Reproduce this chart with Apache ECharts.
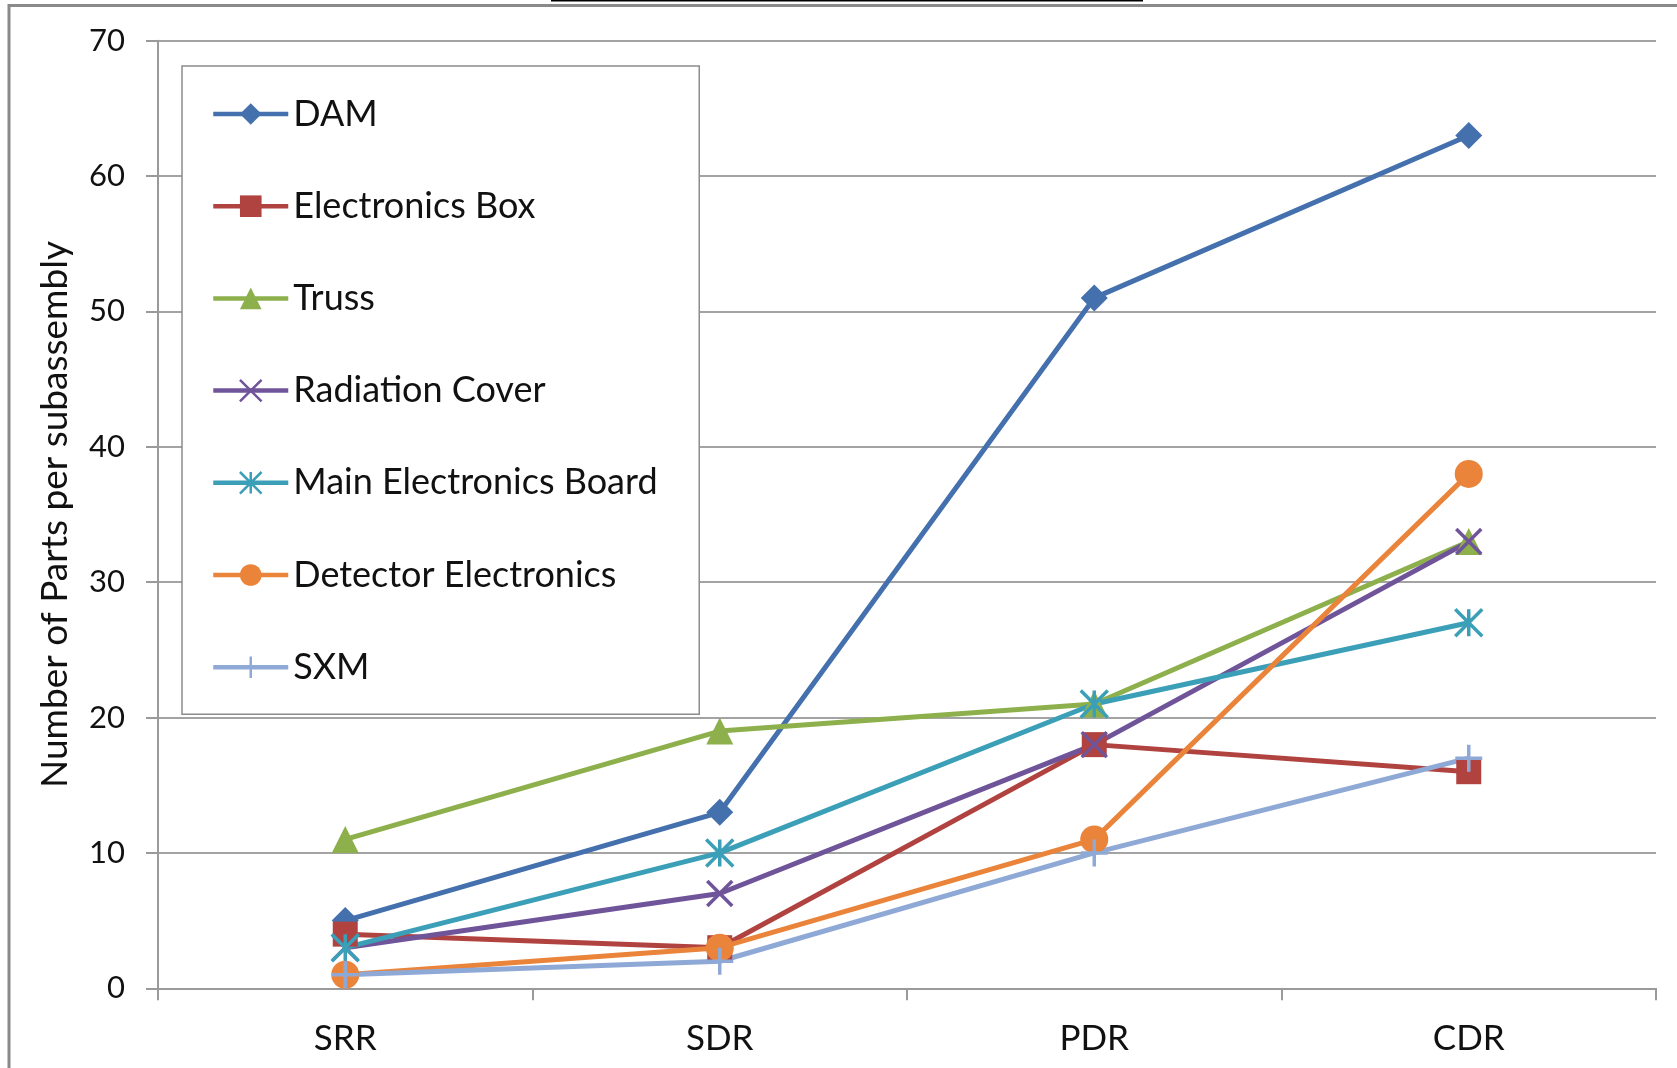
<!DOCTYPE html>
<html>
<head>
<meta charset="utf-8">
<script src="https://cdn.jsdelivr.net/npm/echarts@6/dist/echarts.min.js"></script>
<style>
  html, body { margin: 0; padding: 0; background: #ffffff; }
  #chart { width: 1677px; height: 1068px; }
</style>
</head>
<body>
<div id="chart"></div>
<script>
// Review milestones on the x axis
const categories = ['SRR', 'SDR', 'PDR', 'CDR'];

// Number of parts per subassembly at each milestone
const dam = [5, 13, 51, 63];
const electronicsBox = [4, 3, 18, 16];
const truss = [11, 19, 21, 33];
const radiationCover = [3, 7, 18, 33];
const mainElectronicsBoard = [3, 10, 21, 27];
const detectorElectronics = [1, 3, 11, 38];
const sxm = [1, 2, 10, 17];

// Value axis ticks
const yMin = 0;
const yMax = 70;
const yStep = 10;

const FONT = 'Lato';
const LINE_W = 5;

// Stroked marker shapes
const SYM_X = 'path://M0,0L100,100M100,0L0,100';
const SYM_STAR = 'path://M0,0L100,100M100,0L0,100M50,0L50,100';
const SYM_PLUS = 'path://M50,0L50,100M0,50L100,50';

const seriesDefs = [
  { name: 'DAM', data: dam, color: '#4470AD', symbol: 'diamond', size: 27, stroke: false },
  { name: 'Electronics Box', data: electronicsBox, color: '#B0433F', symbol: 'rect', size: 25, stroke: false },
  { name: 'Truss', data: truss, color: '#8DB04C', symbol: 'triangle', size: 27, stroke: false },
  { name: 'Radiation Cover', data: radiationCover, color: '#6F549A', symbol: SYM_X, size: 25, stroke: true },
  { name: 'Main Electronics Board', data: mainElectronicsBoard, color: '#3C9FB8', symbol: SYM_STAR, size: 27, stroke: true },
  { name: 'Detector Electronics', data: detectorElectronics, color: '#EA843A', symbol: 'circle', size: 28, stroke: false },
  { name: 'SXM', data: sxm, color: '#8FA9D6', symbol: SYM_PLUS, size: 27, stroke: true }
];

const series = seriesDefs.map(d => ({
  name: d.name,
  type: 'line',
  data: d.data,
  symbol: d.symbol,
  symbolSize: d.size,
  showAllSymbol: true,
  lineStyle: { color: d.color, width: LINE_W },
  itemStyle: {
    color: d.color,
    borderColor: d.color,
    borderWidth: d.stroke ? 3.5 : 0
  },
  emphasis: { disabled: true },
  animation: false
}));

const legendData = seriesDefs.map(d => ({
  name: d.name,
  itemStyle: { borderWidth: d.stroke ? 2.5 : 0 },
  lineStyle: { width: 4.5 }
}));

const chart = echarts.init(document.getElementById('chart'), null, { renderer: 'canvas' });

chart.setOption({
  animation: false,
  backgroundColor: '#ffffff',
  textStyle: { fontFamily: FONT },
  grid: { left: 158, right: 21, top: 40.7, bottom: 79.7, containLabel: false },
  legend: {
    orient: 'vertical',
    left: 182,
    top: 66,
    padding: [30, 36, 29, 29],
    itemGap: 56.2,
    itemWidth: 75,
    itemHeight: 27,
    borderColor: '#8c8c8c',
    borderWidth: 1.5,
    backgroundColor: '#ffffff',
    selectedMode: false,
    data: legendData,
    lineStyle: { width: 4.5 },
    textStyle: { fontFamily: FONT, fontSize: 36, color: '#111', width: 370, lineHeight: 27 }
  },
  xAxis: {
    type: 'category',
    data: categories,
    boundaryGap: true,
    axisLine: { show: true, lineStyle: { color: '#9a9a9a', width: 2 } },
    axisTick: { show: true, length: 12, interval: 0, alignWithLabel: false, lineStyle: { color: '#9a9a9a', width: 2 } },
    axisLabel: { fontFamily: FONT, fontSize: 35, color: '#111', margin: 33 },
    splitLine: { show: false }
  },
  yAxis: {
    type: 'value',
    min: yMin,
    max: yMax,
    interval: yStep,
    name: 'Number of Parts per subassembly',
    nameLocation: 'middle',
    nameGap: 84,
    nameTextStyle: { fontFamily: FONT, fontSize: 37, color: '#111' },
    axisLine: { show: true, lineStyle: { color: '#9a9a9a', width: 2 } },
    axisTick: { show: true, length: 12, lineStyle: { color: '#9a9a9a', width: 2 } },
    axisLabel: { fontFamily: FONT, fontSize: 31, color: '#111', margin: 33 },
    splitLine: { show: true, lineStyle: { color: '#a3a3a3', width: 2 } }
  },
  graphic: [
    {
      type: 'polyline',
      shape: { points: [[9, 1068], [9, 5.5], [1677, 5.5]] },
      style: { stroke: '#8a8a8a', lineWidth: 3, fill: null },
      silent: true
    },
    {
      type: 'line',
      shape: { x1: 551, y1: 0.5, x2: 1143, y2: 0.5 },
      style: { stroke: '#000000', lineWidth: 2 },
      silent: true
    }
  ],
  series: series
});
</script>
</body>
</html>
